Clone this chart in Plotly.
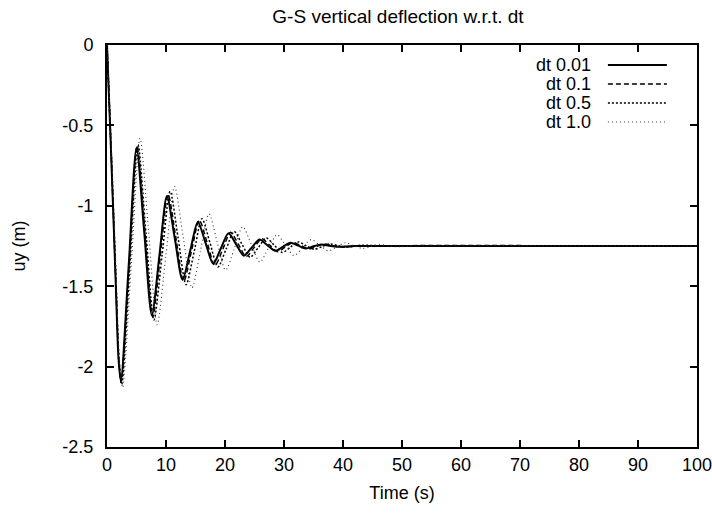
import plotly.graph_objects as go

# dt 0.01
t_001 = [0, 0.5, 1.0, 1.5, 1.95, 2.35, 3.68, 5.0, 6.3, 7.6, 8.88, 10.15, 11.48, 12.8, 14.1, 15.4,
         16.7, 18.0, 19.3, 20.6, 21.9, 23.2, 24.52, 25.85, 27.18, 28.5, 29.8, 31.1, 32.4, 33.7,
         35.0, 36.3, 37.65, 39.0, 42.0, 100]
u_001 = [0, -0.48, -0.98, -1.5, -1.95, -2.09, -1.37, -0.64, -1.16, -1.68, -1.31, -0.94, -1.20, -1.46,
         -1.28, -1.10, -1.23, -1.36, -1.265, -1.17, -1.24, -1.31, -1.26, -1.21, -1.245, -1.28, -1.255,
         -1.23, -1.248, -1.265, -1.252, -1.24, -1.248, -1.255, -1.25, -1.25]
# dt 0.1
t_01 = [0, 0.5, 1.0, 1.5, 2.0, 2.4, 3.75, 5.1, 6.43, 7.75, 9.05, 10.35, 11.68, 13.0, 14.33, 15.65,
        16.98, 18.3, 19.63, 20.95, 22.28, 23.6, 24.93, 26.25, 27.58, 28.9, 30.23, 31.55, 32.88, 34.2,
        35.53, 36.85, 38.18, 39.5, 43, 100]
u_01 = [0, -0.47, -0.97, -1.48, -1.96, -2.10, -1.37, -0.63, -1.16, -1.69, -1.31, -0.93, -1.20, -1.47,
        -1.28, -1.09, -1.23, -1.37, -1.27, -1.165, -1.24, -1.315, -1.26, -1.205, -1.245, -1.285, -1.256,
        -1.228, -1.248, -1.268, -1.253, -1.238, -1.247, -1.256, -1.25, -1.25]
# dt 0.5
t_05 = [0, 0.5, 1.0, 1.5, 2.0, 2.5, 3.88, 5.25, 6.6, 7.95, 9.33, 10.7, 12.05, 13.4, 14.75, 16.1,
        17.45, 18.8, 20.18, 21.55, 22.9, 24.25, 25.63, 27.0, 28.35, 29.7, 31.05, 32.4, 33.75, 35.1,
        36.45, 37.8, 39.15, 40.5, 41.85, 43.2, 47, 100]
u_05 = [0, -0.46, -0.95, -1.45, -1.93, -2.11, -1.37, -0.62, -1.17, -1.71, -1.31, -0.91, -1.20, -1.49,
        -1.29, -1.08, -1.23, -1.38, -1.27, -1.16, -1.24, -1.32, -1.26, -1.20, -1.245, -1.29, -1.258,
        -1.225, -1.248, -1.27, -1.254, -1.237, -1.248, -1.258, -1.252, -1.245, -1.25, -1.25]
# dt 1.0
t_10 = [0, 0.55, 1.1, 1.6, 2.1, 2.65, 4.13, 5.6, 7.05, 8.5, 9.98, 11.45, 12.93, 14.4, 15.85, 17.3,
        18.7, 20.1, 21.55, 23.0, 24.45, 25.9, 27.35, 28.8, 30.25, 31.7, 33.15, 34.6, 36.05, 37.5,
        38.95, 40.4, 41.85, 43.3, 44.75, 46.2, 47.6, 49.0, 52, 100]
u_10 = [0, -0.47, -0.97, -1.47, -1.95, -2.13, -1.36, -0.58, -1.16, -1.74, -1.31, -0.88, -1.20, -1.51,
        -1.28, -1.05, -1.23, -1.40, -1.27, -1.13, -1.24, -1.35, -1.265, -1.18, -1.245, -1.31, -1.26,
        -1.21, -1.245, -1.28, -1.255, -1.23, -1.248, -1.265, -1.253, -1.24, -1.248, -1.255, -1.25, -1.25]

series_names = ["dt 0.01", "dt 0.1", "dt 0.5", "dt 1.0"]
x_ticks = [0, 10, 20, 30, 40, 50, 60, 70, 80, 90, 100]
y_ticks = [0, -0.5, -1, -1.5, -2, -2.5]
y_ticktext = ["0", "-0.5", "-1", "-1.5", "-2", "-2.5"]

styles = [
    dict(color="black", width=2.0, dash="solid"),
    dict(color="black", width=1.5, dash="5px,3px"),
    dict(color="black", width=1.5, dash="2px,2px"),
    dict(color="#333333", width=1.1, dash="1px,3px"),
]

FONT = "Liberation Sans, Arial, sans-serif"
fig = go.Figure()
for (tx, uy), name, st in zip([(t_001, u_001), (t_01, u_01), (t_05, u_05), (t_10, u_10)],
                              series_names, styles):
    fig.add_trace(go.Scatter(x=tx, y=uy, mode="lines", name=name,
                             line=dict(shape="spline", smoothing=0.8, **st), showlegend=False))

# gnuplot-style legend (text right, sample to the right)
row_y = [0.9502, 0.9030, 0.8557, 0.8085]
for name, st, yy in zip(series_names, styles, row_y):
    fig.add_annotation(x=0.824, y=yy, xref="paper", yref="paper", text=name, showarrow=False,
                       xanchor="right", yanchor="middle", font=dict(family=FONT, size=18, color="black"))
    fig.add_shape(type="line", xref="paper", yref="paper", x0=0.849, x1=0.949, y0=yy, y1=yy,
                  line=dict(color=st["color"], width=st["width"], dash=st["dash"]))

axis_common = dict(showline=True, linecolor="black", linewidth=2, mirror="ticks", ticks="inside",
                   ticklen=7, tickwidth=1.5, tickcolor="black", showgrid=False, zeroline=False,
                   ticklabeloverflow="allow", automargin=False,
                   tickfont=dict(family=FONT, size=18, color="black"))
fig.update_xaxes(range=[0, 100], tickvals=x_ticks, title=dict(text="Time (s)", standoff=13,
                 font=dict(family=FONT, size=18, color="black")), **axis_common)
fig.update_yaxes(range=[-2.5, 0], tickvals=y_ticks, ticktext=y_ticktext, ticklabelstandoff=8,
                 title=dict(text="uy (m)", standoff=32, font=dict(family=FONT, size=18, color="black")),
                 **axis_common)
fig.update_layout(
    width=712, height=513, margin=dict(l=107, r=15, t=45, b=66, autoexpand=False),
    plot_bgcolor="white", paper_bgcolor="white",
    title=dict(text="G-S vertical deflection w.r.t. dt", x=398 / 712, xanchor="center", y=1 - 16 / 513,
               yanchor="middle", font=dict(family=FONT, size=19, color="black")),
)
fig.write_html("out.html")
